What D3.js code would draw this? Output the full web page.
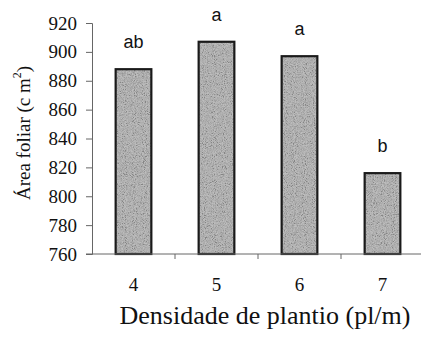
<!DOCTYPE html>
<html>
<head>
<meta charset="utf-8">
<script src="https://cdn.jsdelivr.net/npm/d3@7/dist/d3.min.js"></script>
<style>
  html, body { margin: 0; padding: 0; background: #fff; }
  svg { display: block; }
</style>
</head>
<body>
<div id="chart"></div>
<script>
// Leaf area by planting density
const densities = ["4", "5", "6", "7"];
const leafArea = [888, 907, 897, 816];
const groupLetters = ["ab", "a", "a", "b"];
const yTicks = [760, 780, 800, 820, 840, 860, 880, 900, 920];

const W = 421, H = 337;
const svg = d3.select("#chart").append("svg")
  .attr("width", W).attr("height", H);

// grain texture for the bar fill
const defs = svg.append("defs");
const grain = defs.append("filter").attr("id", "grain")
  .attr("x", 0).attr("y", 0).attr("width", 1).attr("height", 1);
grain.append("feTurbulence").attr("type", "fractalNoise")
  .attr("baseFrequency", 1.1).attr("numOctaves", 2).attr("seed", 7).attr("result", "n");
grain.append("feColorMatrix").attr("in", "n").attr("type", "saturate").attr("values", 0).attr("result", "g");
const ct = grain.append("feComponentTransfer").attr("in", "g").attr("result", "c");
["feFuncR", "feFuncG", "feFuncB"].forEach(f =>
  ct.append(f).attr("type", "linear").attr("slope", 3).attr("intercept", -1));
ct.append("feFuncA").attr("type", "linear").attr("slope", 0).attr("intercept", 1);
grain.append("feComposite").attr("in", "c").attr("in2", "SourceGraphic").attr("operator", "in");

const plotL = 92, plotR = 424, plotT = 23, plotB = 254;

const x = d3.scaleBand().domain(densities).range([plotL, plotR]).paddingInner(0.57).paddingOuter(0.285);
const y = d3.scaleLinear().domain([760, 920]).range([plotB, plotT]);

const serif = "'Liberation Serif', 'Times New Roman', serif";
const sans = "'Liberation Sans', Arial, sans-serif";

// bars
const bars = svg.append("g");
bars.selectAll("rect.bar").data(densities).join("rect")
  .attr("class", "bar")
  .attr("x", d => x(d))
  .attr("y", (d, i) => y(leafArea[i]))
  .attr("width", x.bandwidth())
  .attr("height", (d, i) => y(760) - y(leafArea[i]))
  .attr("fill", "#acacac");
bars.selectAll("rect.tex").data(densities).join("rect")
  .attr("class", "tex")
  .attr("x", d => x(d))
  .attr("y", (d, i) => y(leafArea[i]))
  .attr("width", x.bandwidth())
  .attr("height", (d, i) => y(760) - y(leafArea[i]))
  .attr("fill", "#fff")
  .attr("filter", "url(#grain)")
  .attr("opacity", 0.22);
bars.selectAll("rect.edge").data(densities).join("rect")
  .attr("class", "edge")
  .attr("x", d => x(d))
  .attr("y", (d, i) => y(leafArea[i]))
  .attr("width", x.bandwidth())
  .attr("height", (d, i) => y(760) - y(leafArea[i]))
  .attr("fill", "none")
  .attr("stroke", "#1a1a1a")
  .attr("stroke-width", 2.2);

// significance letters
svg.append("g").selectAll("text").data(densities).join("text")
  .attr("x", d => x(d) + x.bandwidth() / 2)
  .attr("y", (d, i) => y(leafArea[i]) - 21)
  .attr("text-anchor", "middle")
  .attr("font-family", sans)
  .attr("font-size", 18)
  .attr("fill", "#111")
  .text((d, i) => groupLetters[i]);

// y axis
const yAxis = svg.append("g").attr("transform", `translate(${plotL},0)`)
  .call(d3.axisLeft(y).tickValues(yTicks).tickSize(6).tickSizeOuter(6).tickPadding(9));
yAxis.select(".domain").attr("stroke", "#666");
yAxis.selectAll(".tick line").attr("stroke", "#666");
yAxis.selectAll(".tick text").attr("font-family", serif).attr("font-size", 19).attr("fill", "#111");

// x axis: baseline with marks between categories
const xAxis = svg.append("g").attr("transform", `translate(0,${plotB})`);
xAxis.append("line").attr("x1", plotL - 6).attr("x2", W).attr("y1", 0).attr("y2", 0)
  .attr("stroke", "#666");
xAxis.selectAll("line.tk").data(densities.slice(1)).join("line")
  .attr("class", "tk")
  .attr("x1", d => x(d) - x.step() * 0.285).attr("x2", d => x(d) - x.step() * 0.285)
  .attr("y1", 0).attr("y2", 5).attr("stroke", "#666");
xAxis.selectAll("text").data(densities).join("text")
  .attr("x", d => x(d) + x.bandwidth() / 2)
  .attr("y", 37)
  .attr("text-anchor", "middle")
  .attr("font-family", serif).attr("font-size", 19).attr("fill", "#111")
  .text(d => d);

// axis titles
svg.append("text")
  .attr("x", 265).attr("y", 324)
  .attr("text-anchor", "middle")
  .attr("font-family", serif).attr("font-size", 26).attr("fill", "#111")
  .text("Densidade de plantio (pl/m)");

const yt = svg.append("text")
  .attr("transform", "translate(30,133) rotate(-90)")
  .attr("text-anchor", "middle")
  .attr("font-family", serif).attr("font-size", 19).attr("fill", "#111");
yt.append("tspan").text("Área foliar (c m");
yt.append("tspan").attr("font-size", 12).attr("dy", -9).text("2");
yt.append("tspan").attr("dy", 9).text(")");
</script>
</body>
</html>
